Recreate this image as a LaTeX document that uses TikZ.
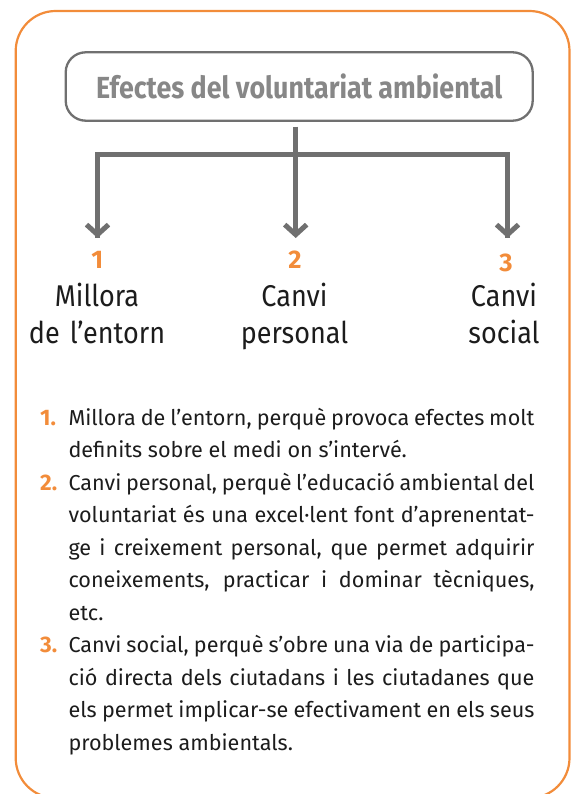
\documentclass[tikz,border=0pt]{standalone}
\usepackage{fontspec}
\setmainfont{Fira Sans}
\newfontfamily\labfont[FakeStretch=0.9]{Fira Sans}
\newfontfamily\titfont[FakeStretch=0.88]{Fira Sans}
\newfontfamily\bodyfont{Fira Sans}
\usetikzlibrary{arrows.meta}
\definecolor{frameor}{RGB}{242,140,58}
\definecolor{linegray}{RGB}{112,112,112}
\definecolor{titgray}{RGB}{135,135,135}
\definecolor{txt}{RGB}{28,28,28}
\newcommand\bodyset{\bodyfont\fontsize{21.6}{32.5}\selectfont\fontdimen4\font=0.12em\relax}
\begin{document}
\begin{tikzpicture}[x=1pt,y=-1pt,
  framebox/.style={draw=frameor,line width=2.2pt,rounded corners=40pt},
  titlebox/.style={draw=linegray,line width=2.3pt,rounded corners=20pt,minimum width=467pt,minimum height=68.4pt,inner sep=0pt,text=titgray,font=\titfont\bfseries\fontsize{30.5}{32}\selectfont},
  conn/.style={draw=linegray,line width=5pt,line join=miter},
  tip/.style={-{Straight Barb[length=10pt,width=22pt,sharp]}},
  num/.style={anchor=base,inner sep=0pt,text=frameor,font=\bodyfont\bfseries\fontsize{25.5}{25}\selectfont},
  lab/.style={anchor=base,inner sep=0pt,text=txt,text width=170pt,align=center,font=\labfont\fontsize{30}{37}\selectfont},
  inum/.style={anchor=base west,inner sep=0pt,text=frameor,font=\bodyfont\bfseries\fontsize{22.5}{32.5}\selectfont},
  item/.style={anchor=base west,inner sep=0pt,text=txt,text width=466pt,align=justify,font=\bodyset}
]
\useasboundingbox (0,0) rectangle (572,794);
\begin{scope}
\clip (0,0) rectangle (572,794);
\draw[framebox] (15.7,11) rectangle (569.5,798);
\end{scope}
\node[titlebox] (title) at (299.2,86.5) {Efectes del voluntariat ambiental};
\coordinate (top) at (295.7,126.7);
\coordinate (jn) at (295.7,155);
\coordinate (t1) at (97.5,238);
\coordinate (t2) at (295.7,238);
\coordinate (t3) at (507.5,238);
\draw[conn] (jn) -| (t1);
\draw[conn] (jn) -| (t3);
\draw[conn] (top) -- (jn);
\draw[conn,tip] (97.5,200) -- (t1);
\draw[conn,tip] (jn) -- (t2);
\draw[conn,tip] (507.5,200) -- (t3);
\node[num] (n1) at (97.3,268.5) {1};
\node[num] (n2) at (295,268.5) {2};
\node[num] (n3) at (506,271) {3};
\node[lab] (l1) at (97,306) {Millora\\de l’entorn};
\node[lab] (l2) at (294.5,306) {Canvi\\personal};
\node[lab] (l3) at (504,306) {Canvi\\social};
\node[inum] (k1) at (40,425) {1.};
\node[item] (i1) at (68.3,425) {Millora de l’entorn, perquè provoca efectes molt\linebreak definits sobre el medi on s’intervé.};
\node[inum] (k2) at (40,490) {2.};
\node[item] (i2) at (68.3,490) {Canvi personal, perquè l’educació ambiental del\linebreak voluntariat és una excel·lent font d’aprenentat-\linebreak ge i creixement personal, que permet adquirir\linebreak coneixements, practicar i dominar tècniques,\linebreak etc.};
\node[inum] (k3) at (40,652.5) {3.};
\node[item] (i3) at (68.3,652.5) {Canvi social, perquè s’obre una via de participa-\linebreak ció directa dels ciutadans i les ciutadanes que\linebreak els permet implicar-se efectivament en els seus\linebreak problemes ambientals.};
\end{tikzpicture}
\end{document}
